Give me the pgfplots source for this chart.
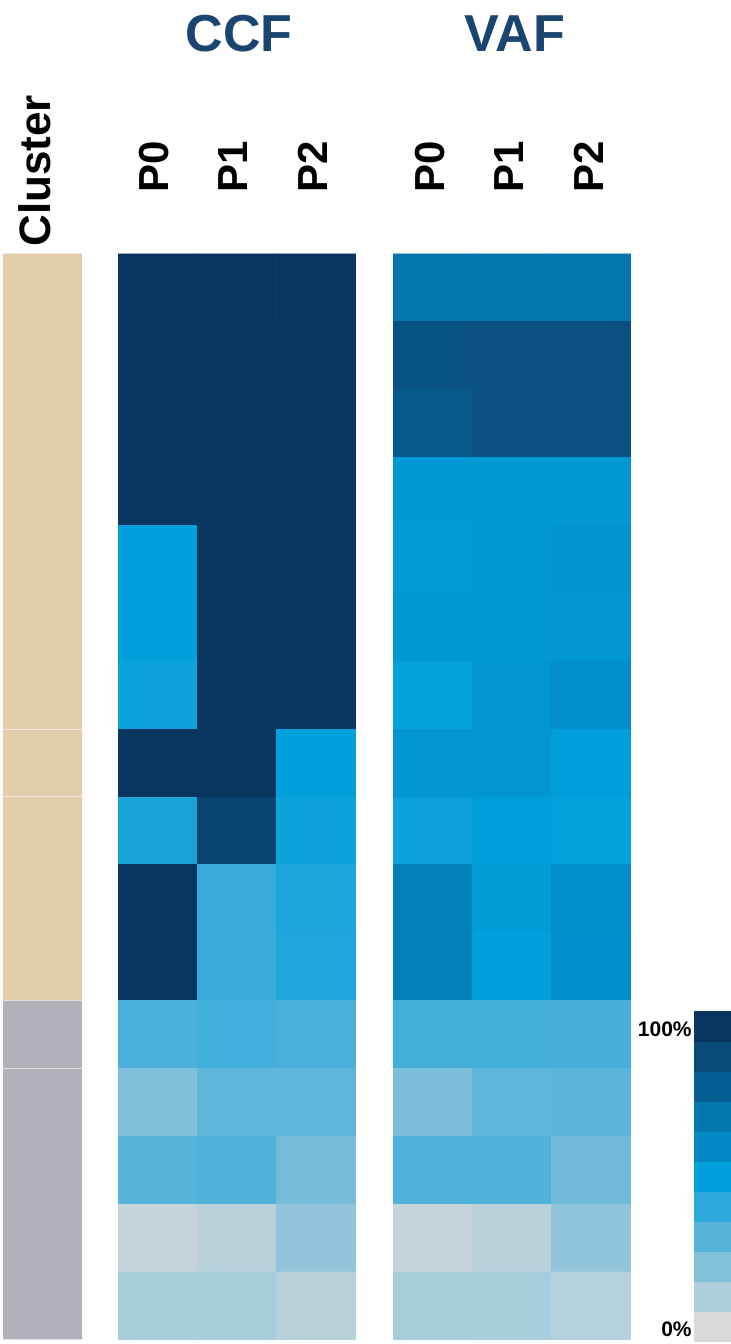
\documentclass[border=0pt]{standalone}
\usepackage{pgfplots}
\usepackage{pgfplotstable}
\pgfplotsset{compat=1.18}
\usepackage{fontspec}
\setmainfont{Liberation Sans}

\definecolor{titleblue}{RGB}{26,69,112}
\definecolor{clustan}{RGB}{226,204,169}
\definecolor{clusgrey}{RGB}{177,177,185}

% values in percent, row y=15 is the top row
\pgfplotstableread{
x y v
0 15 100
1 15 100
2 15 100
0 14 100
1 14 100
2 14 100
0 13 100
1 13 100
2 13 100
0 12 100
1 12 100
2 12 100
0 11 50
1 11 100
2 11 100
0 10 50
1 10 100
2 10 100
0 9 47.5
1 9 100
2 9 100
0 8 100
1 8 100
2 8 50
0 7 44.5
1 7 92.5
2 7 47
0 6 100
1 6 37
2 6 44
0 5 100
1 5 37.5
2 5 43
0 4 32.7
1 4 35
2 4 33
0 3 21
1 3 28
2 3 28
0 2 30
1 2 31.5
2 2 23
0 1 5
1 1 7.7
2 1 16.5
0 0 11.6
1 0 11.6
2 0 8
}\ccfdata

\pgfplotstableread{
x y v
0 15 70.5
1 15 70
2 15 70
0 14 86
1 14 86.7
2 14 86.7
0 13 83
1 13 86.7
2 13 86.7
0 12 53
1 12 53
2 12 53
0 11 52.5
1 11 53
2 11 55
0 10 53
1 10 53
2 10 54
0 9 49
1 9 54
2 9 57.5
0 8 54
1 8 54
2 8 51
0 7 47.6
1 7 51
2 7 49
0 6 65
1 6 51.5
2 6 57.5
0 5 64.7
1 5 50
2 5 57
0 4 34.5
1 4 34.5
2 4 33.5
0 3 21.3
1 3 28
2 3 28.7
0 2 31.5
1 2 31.5
2 2 24
0 1 5
1 1 7.7
2 1 17
0 0 11.6
1 0 11.4
2 0 8.4
}\vafdata

\pgfplotstableread{
x y v
0 0 0
1 0 0
0 1 10
1 1 10
0 2 20
1 2 20
0 3 30
1 3 30
0 4 40
1 4 40
0 5 50
1 5 50
0 6 60
1 6 60
0 7 70
1 7 70
0 8 80
1 8 80
0 9 90
1 9 90
0 10 100
1 10 100
}\scaledata

\pgfplotsset{
  colormap={blues}{
    rgb255(0)=(217,217,217) rgb255(1)=(174,207,220) rgb255(2)=(131,192,218)
    rgb255(3)=(86,179,218) rgb255(4)=(46,168,220) rgb255(5)=(0,160,220)
    rgb255(6)=(2,136,195) rgb255(7)=(3,119,174) rgb255(8)=(6,95,147)
    rgb255(9)=(10,74,120) rgb255(10)=(8,54,95)},
  hm/.style={
    scale only axis, hide axis, anchor=south west,
    width=119pt, height=543pt,
    xmin=-0.5, xmax=2.5, ymin=-0.5, ymax=15.5,
    colormap name=blues, point meta min=0, point meta max=100,
  },
}

\newcommand{\plab}[1]{\fontsize{21}{24}\selectfont\bfseries #1}

\begin{document}
\begin{tikzpicture}
\path[use as bounding box] (0,0) rectangle (365.5pt,672pt);

% cluster bar
\begin{axis}[scale only axis, hide axis, anchor=south west, at={(1.5pt,2pt)},
  width=39.5pt, height=543pt, xmin=0, xmax=1, ymin=0, ymax=16]
  \addplot[fill=clustan, draw=white!60!clustan, line width=0.5pt] coordinates {(0,9) (1,9) (1,16) (0,16)} -- cycle;
  \addplot[fill=clustan, draw=white!60!clustan, line width=0.5pt] coordinates {(0,8) (1,8) (1,9) (0,9)} -- cycle;
  \addplot[fill=clustan, draw=white!60!clustan, line width=0.5pt] coordinates {(0,5) (1,5) (1,8) (0,8)} -- cycle;
  \addplot[fill=clusgrey, draw=white!60!clusgrey, line width=0.5pt] coordinates {(0,4) (1,4) (1,5) (0,5)} -- cycle;
  \addplot[fill=clusgrey, draw=white!60!clusgrey, line width=0.5pt] coordinates {(0,0) (1,0) (1,4) (0,4)} -- cycle;
\end{axis}

% CCF
\begin{axis}[hm, at={(59pt,2pt)}]
  \addplot[matrix plot*, mesh/cols=3, point meta=explicit] table[x=x, y=y, meta=v] {\ccfdata};
\end{axis}

% VAF
\begin{axis}[hm, at={(196.5pt,2pt)}]
  \addplot[matrix plot*, mesh/cols=3, point meta=explicit] table[x=x, y=y, meta=v] {\vafdata};
\end{axis}

% colour scale
\begin{axis}[scale only axis, hide axis, anchor=south west, at={(347pt,1.5pt)},
  width=18.5pt, height=165pt, xmin=-0.5, xmax=1.5, ymin=-0.5, ymax=10.5,
  colormap name=blues, point meta min=0, point meta max=100]
  \addplot[matrix plot*, mesh/cols=2, point meta=explicit] table[x=x, y=y, meta=v] {\scaledata};
\end{axis}

% titles and labels
\node[anchor=base, text=titleblue, font=\fontsize{26}{30}\selectfont\bfseries] at (119.5pt,646pt) {CCF};
\node[anchor=base, text=titleblue, font=\fontsize{26}{30}\selectfont\bfseries] at (257.5pt,646pt) {VAF};
\node[rotate=90, anchor=west, inner sep=0pt, font=\fontsize{22}{26}\selectfont\bfseries] at (17.5pt,548.5pt) {Cluster};
\foreach \xc/\t in {76.8/P0, 116.5/P1, 156.2/P2, 214.8/P0, 254.5/P1, 294.2/P2}
  \node[rotate=90, anchor=west, inner sep=0pt] at (\xc pt,575.5pt) {\plab{\t}};
\node[anchor=east, inner sep=0pt, font=\fontsize{10.5}{12}\selectfont\bfseries] at (346pt,157.25pt) {100\%};
\node[anchor=east, inner sep=0pt, font=\fontsize{10.5}{12}\selectfont\bfseries] at (346pt,7.5pt) {0\%};
\end{tikzpicture}
\end{document}
